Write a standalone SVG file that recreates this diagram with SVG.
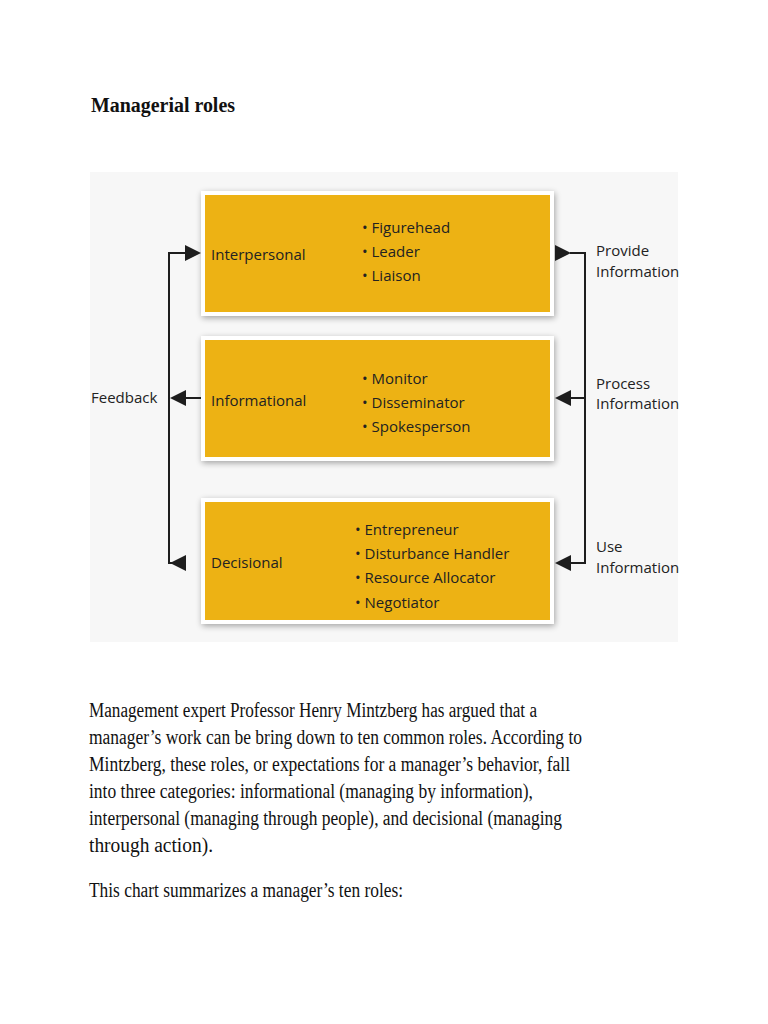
<svg xmlns="http://www.w3.org/2000/svg" width="768" height="1024" viewBox="0 0 768 1024">
<style>
.serif{font-family:"Liberation Serif","Times New Roman",serif;fill:#111;}
.lbl{font-family:"Open Sans","Noto Sans",sans-serif;font-size:15px;fill:#222;}
.box{fill:#EDB214;}
.frame{fill:#ffffff;}
.conn{stroke:#1e1e1e;stroke-width:2;fill:none;}
.head{fill:#1e1e1e;}
</style>
<defs>
<filter id="sh" x="-10%" y="-20%" width="120%" height="140%">
<feGaussianBlur in="SourceAlpha" stdDeviation="3"/>
<feOffset dx="1" dy="2" result="b"/>
<feComponentTransfer><feFuncA type="linear" slope="0.35"/></feComponentTransfer>
<feMerge><feMergeNode/><feMergeNode in="SourceGraphic"/></feMerge>
</filter>
</defs>
<rect width="768" height="1024" fill="#ffffff"/>
<text class="serif" x="91" y="112" font-size="20" font-weight="bold" textLength="144" lengthAdjust="spacingAndGlyphs">Managerial roles</text>
<rect x="90" y="172" width="588" height="470" fill="#f7f7f7"/>

<g id="interpersonal">
<rect class="frame" x="201" y="191" width="353" height="125" filter="url(#sh)"/>
<rect class="box" x="205" y="195" width="345" height="117"/>
<text class="lbl" x="211" y="260">Interpersonal</text>
<text class="lbl" x="362" y="233">• Figurehead</text>
<text class="lbl" x="362" y="257">• Leader</text>
<text class="lbl" x="362" y="281">• Liaison</text>
</g>
<g id="informational">
<rect class="frame" x="201" y="336" width="353" height="125" filter="url(#sh)"/>
<rect class="box" x="205" y="340" width="345" height="117"/>
<text class="lbl" x="211" y="406">Informational</text>
<text class="lbl" x="362" y="384">• Monitor</text>
<text class="lbl" x="362" y="408">• Disseminator</text>
<text class="lbl" x="362" y="432">• Spokesperson</text>
</g>
<g id="decisional">
<rect class="frame" x="201" y="498" width="353" height="126" filter="url(#sh)"/>
<rect class="box" x="205" y="502" width="345" height="118"/>
<text class="lbl" x="211" y="568">Decisional</text>
<text class="lbl" x="355" y="535">• Entrepreneur</text>
<text class="lbl" x="355" y="559">• Disturbance Handler</text>
<text class="lbl" x="355" y="583">• Resource Allocator</text>
<text class="lbl" x="355" y="608">• Negotiator</text>
</g>

<g id="connectors">
<path class="conn" d="M186 253 H169 V563 H186"/>
<path class="conn" d="M186 398 H201"/>
<polygon class="head" points="201,253 185,245 185,261"/>
<polygon class="head" points="170,398 186,390 186,406"/>
<polygon class="head" points="170,563 186,555 186,571"/>
<path class="conn" d="M570 253 H585 V563 H570"/>
<path class="conn" d="M570 398 H585"/>
<polygon class="head" points="571,253 555,245 555,261"/>
<polygon class="head" points="555,398 571,390 571,406"/>
<polygon class="head" points="555,563 571,555 571,571"/>
</g>

<g id="side-labels">
<text class="lbl" x="91" y="403">Feedback</text>
<text class="lbl" x="596" y="256">Provide</text>
<text class="lbl" x="596" y="277">Information</text>
<text class="lbl" x="596" y="389">Process</text>
<text class="lbl" x="596" y="409">Information</text>
<text class="lbl" x="596" y="552">Use</text>
<text class="lbl" x="596" y="573">Information</text>
</g>

<g id="body">
<text class="serif" x="89" y="717" font-size="20.5" textLength="448" lengthAdjust="spacingAndGlyphs">Management expert Professor Henry Mintzberg has argued that a</text>
<text class="serif" x="89" y="744" font-size="20.5" textLength="493" lengthAdjust="spacingAndGlyphs">manager’s work can be bring down to ten common roles. According to</text>
<text class="serif" x="89" y="771" font-size="20.5" textLength="481" lengthAdjust="spacingAndGlyphs">Mintzberg, these roles, or expectations for a manager’s behavior, fall</text>
<text class="serif" x="89" y="798" font-size="20.5" textLength="444" lengthAdjust="spacingAndGlyphs">into three categories: informational (managing by information),</text>
<text class="serif" x="89" y="825" font-size="20.5" textLength="473" lengthAdjust="spacingAndGlyphs">interpersonal (managing through people), and decisional (managing</text>
<text class="serif" x="89" y="852" font-size="20.5" textLength="124" lengthAdjust="spacingAndGlyphs">through action).</text>
<text class="serif" x="89" y="897" font-size="20.5" textLength="314" lengthAdjust="spacingAndGlyphs">This chart summarizes a manager’s ten roles:</text>
</g>
</svg>
